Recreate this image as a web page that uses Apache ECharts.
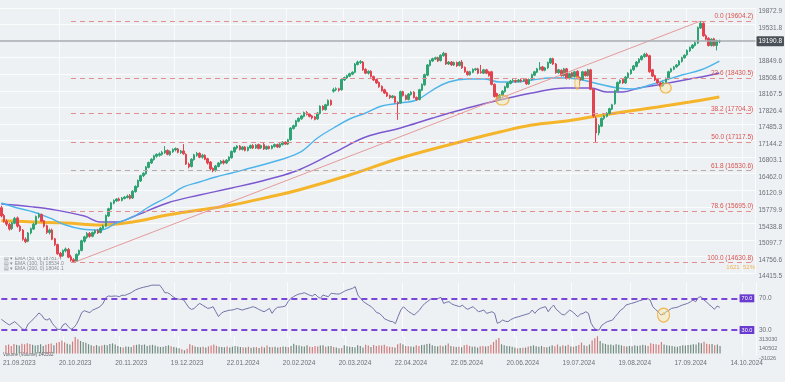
<!DOCTYPE html>
<html><head><meta charset="utf-8">
<script src="https://cdn.jsdelivr.net/npm/echarts@6/dist/echarts.min.js"></script>
<style>html,body{margin:0;padding:0;background:#eef1f4;}#c{width:785px;height:382px;}</style>
</head><body><div id="c"></div>
<script>
// ---------- DATA ----------
const tickDates = ['21.09.2023','20.10.2023','20.11.2023','19.12.2023','22.01.2024','20.02.2024','20.03.2024','22.04.2024','22.05.2024','20.06.2024','19.07.2024','19.08.2024','17.09.2024','14.10.2024'];
const firstTick = 5, tickStep = 21, barCount = 282;
const priceTicks = ['14415.5','14756.6','15097.7','15438.8','15779.9','16120.9','16462.0','16803.1','17144.2','17485.3','17826.4','18167.5','18508.6','18849.6','19190.8','19531.8','19872.9'];
const volTicks = ['-31026','140502','313030'];
const rsiLevels = [30, 70];
// [open, close, low, high]
const ohlc = [
[15760,15590,15560,15800],[15600,15480,15450,15630],[15480,15420,15380,15520],[15420,15320,15290,15450],[15330,15450,15300,15470],
[15440,15540,15420,15570],[15550,15380,15350,15580],[15380,15290,15260,15410],[15300,15110,15080,15320],[15110,15060,15030,15150],
[15070,15240,15050,15260],[15240,15330,15210,15350],[15320,15420,15300,15450],[15420,15580,15400,15600],[15570,15620,15540,15660],
[15620,15480,15460,15640],[15490,15380,15350,15510],[15390,15250,15220,15410],[15250,15300,15210,15330],[15300,15110,15090,15330],
[15120,15000,14970,15140],[15000,14810,14790,15020],[14820,14760,14730,14850],[14770,14880,14750,14900],[14870,14910,14840,14940],
[14900,14740,14720,14930],[14750,14680,14650,14790],[14690,14650,14631,14720],[14660,14800,14640,14820],[14800,14880,14770,14900],
[14880,15080,14860,15100],[15070,15160,15040,15180],[15150,15230,15120,15260],[15230,15170,15140,15260],[15170,15250,15150,15270],
[15240,15290,15210,15310],[15290,15240,15220,15320],[15250,15340,15230,15360],[15330,15380,15310,15410],[15380,15600,15360,15620],
[15590,15740,15570,15760],[15730,15860,15710,15880],[15850,15910,15830,15930],[15900,15940,15880,15960],[15940,15910,15890,15970],
[15910,15960,15890,15980],[15950,15980,15930,16000],[15970,16000,15950,16030],[16010,15950,15930,16040],[15960,16100,15940,16120],
[16090,16200,16070,16220],[16190,16320,16170,16340],[16310,16420,16290,16440],[16420,16470,16390,16490],[16460,16600,16440,16620],
[16590,16690,16570,16710],[16680,16760,16660,16780],[16750,16830,16730,16850],[16820,16860,16790,16880],[16840,16870,16810,16900],
[16860,16900,16830,16930],[16890,16940,16870,17030],[16940,16860,16840,16960],[16850,16920,16830,16940],[16910,16960,16890,16980],
[16950,16980,16920,17000],[16970,16900,16880,16990],[16890,16930,16870,16950],[16930,16870,16850,17070],[16860,16660,16640,16880],
[16660,16600,16570,16690],[16610,16760,16590,16780],[16750,16850,16730,16870],[16840,16880,16810,16910],[16880,16800,16780,16900],
[16800,16840,16770,16870],[16840,16760,16740,16860],[16770,16680,16650,16790],[16700,16560,16520,16720],[16570,16520,16490,16590],
[16530,16620,16500,16640],[16610,16680,16590,16700],[16670,16720,16650,16740],[16720,16680,16650,16750],[16680,16740,16660,16760],
[16730,16800,16710,16820],[16790,16920,16770,16940],[16910,17000,16890,17020],[16990,17030,16960,17050],[17030,16960,16940,17050],
[16960,17010,16940,17030],[17010,16940,16920,17030],[16940,17000,16920,17020],[16990,17040,16970,17060],[17040,16990,16970,17070],
[16990,17050,16970,17070],[17060,16980,16960,17080],[16990,17040,16970,17060],[17060,16970,16950,17100],[16970,17020,16950,17040],
[17020,16980,16960,17040],[16980,17030,16960,17050],[17020,17060,17000,17080],[17060,17010,16990,17080],[17010,17070,16990,17090],
[17060,17110,17040,17130],[17110,17070,17050,17130],[17070,17160,17050,17180],[17160,17400,17140,17420],[17390,17450,17370,17470],
[17440,17550,17420,17570],[17540,17600,17520,17620],[17590,17650,17570,17670],[17640,17720,17620,17740],[17720,17680,17660,17750],
[17690,17640,17620,17710],[17650,17610,17580,17670],[17630,17580,17560,17650],[17590,17710,17570,17730],[17700,17850,17680,17870],
[17850,17780,17760,17870],[17780,17880,17760,17900],[17870,17970,17850,17990],[17970,17880,17860,17990],[18160,18190,18130,18230],
[18190,18210,18160,18240],[18210,18180,18150,18230],[18190,18400,18170,18420],[18390,18440,18370,18460],[18430,18480,18410,18500],
[18470,18520,18450,18540],[18510,18550,18490,18570],[18550,18720,18530,18740],[18710,18760,18690,18790],[18750,18770,18720,18800],
[18760,18600,18580,18780],[18610,18530,18510,18630],[18530,18570,18500,18590],[18570,18460,18440,18590],[18460,18390,18370,18480],
[18400,18330,18310,18420],[18340,18250,18230,18360],[18260,18170,18150,18280],[18190,18120,18100,18210],[18130,18060,18040,18150],
[18070,18030,18000,18090],[18030,18060,18010,18080],[18050,17930,17910,18070],[17930,17900,17570,17950],[17920,18150,17900,18170],
[18150,18070,18050,18170],[18070,17990,17970,18090],[17990,18100,17970,18120],[18090,18140,18070,18160],[18140,18030,18010,18160],
[18030,17990,17960,18050],[17990,18190,17970,18210],[18180,18300,18160,18320],[18290,18500,18270,18520],[18490,18700,18470,18720],
[18690,18790,18670,18810],[18780,18830,18760,18850],[18820,18850,18800,18870],[18850,18780,18760,18870],[18790,18900,18770,18920],
[18890,18940,18870,18970],[18940,18720,18700,18950],[18720,18760,18700,18780],[18760,18700,18680,18780],[18700,18750,18680,18770],
[18750,18680,18660,18770],[18690,18760,18670,18780],[18760,18640,18620,18800],[18650,18560,18540,18670],[18560,18500,18480,18580],
[18500,18560,18480,18580],[18550,18610,18530,18630],[18600,18620,18580,18640],[18620,18530,18510,18640],[18560,18540,18520,18700],
[18530,18600,18510,18620],[18600,18530,18510,18620],[18560,18480,18460,18580],[18560,18300,18280,18580],[18300,18050,18030,18320],
[18110,17990,17950,18130],[17990,18080,17970,18100],[18070,18160,18050,18180],[18150,18250,18130,18270],[18240,18330,18220,18350],
[18320,18370,18300,18390],[18370,18380,18340,18410],[18380,18360,18330,18400],[18360,18390,18340,18410],[18390,18370,18340,18420],
[18370,18400,18350,18430],[18400,18310,18290,18420],[18310,18400,18290,18420],[18400,18500,18380,18520],[18490,18560,18470,18580],
[18550,18620,18530,18640],[18610,18660,18590,18760],[18660,18590,18570,18680],[18590,18640,18570,18660],[18640,18750,18620,18770],
[18740,18830,18720,18850],[18830,18720,18700,18850],[18720,18540,18520,18740],[18540,18600,18520,18620],[18590,18480,18460,18610],
[18480,18620,18460,18640],[18620,18420,18400,18640],[18420,18520,18400,18540],[18540,18460,18440,18560],[18460,18560,18440,18580],
[18570,18440,18420,18590],[18440,18380,18280,18460],[18400,18560,18380,18580],[18560,18480,18460,18580],[18480,18600,18460,18620],
[18600,18200,18180,18620],[18200,17650,17620,18220],[17600,17300,17100,17640],[17300,17450,17250,17480],[17440,17600,17420,17620],
[17600,17650,17570,17680],[17640,17700,17620,17730],[17700,17800,17680,17820],[17790,17880,17770,17900],[17900,18170,17880,18190],
[18170,18340,18150,18360],[18330,18380,18310,18400],[18400,18330,18310,18420],[18330,18450,18310,18470],[18440,18530,18420,18550],
[18520,18600,18500,18620],[18600,18680,18580,18700],[18670,18760,18650,18780],[18750,18820,18730,18840],[18810,18880,18790,18900],
[18870,18920,18850,18950],[18920,18880,18860,18950],[18890,18560,18540,18910],[18600,18470,18450,18620],[18480,18390,18370,18500],
[18400,18330,18310,18420],[18330,18260,18200,18350],[18270,18340,18250,18360],[18340,18420,18320,18440],[18420,18560,18400,18580],
[18560,18620,18540,18640],[18610,18660,18590,18680],[18660,18700,18640,18720],[18700,18780,18680,18800],[18770,18850,18750,18870],
[18850,18900,18830,18920],[18910,19000,18890,19020],[18990,19060,18970,19080],[19050,19110,19030,19130],[19100,19160,19080,19190],
[19150,19470,19130,19490],[19460,19560,19440,19604.2],[19560,19300,19280,19580],[19300,19230,19200,19330],[19250,19100,19080,19270],
[19100,19230,19080,19250],[19240,19100,19080,19260],[19100,19200,19000,19220],[19180,19190.8,19150,19220]
];
const volume = [
150000,165000,140000,172000,158000,145000,180000,168000,190000,175000,
160000,148000,155000,170000,138000,162000,175000,185000,150000,195000,
210000,240000,205000,180000,165000,220000,300000,260000,230000,210000,
195000,170000,150000,140000,155000,132000,145000,160000,150000,175000,
185000,165000,140000,120000,110000,130000,125000,118000,150000,160000,
170000,155000,165000,140000,150000,160000,145000,130000,120000,125000,
140000,150000,135000,120000,110000,95000,80000,60000,90000,170000,
150000,130000,120000,115000,125000,110000,130000,145000,165000,140000,
125000,120000,115000,130000,110000,125000,140000,130000,120000,115000,
110000,125000,105000,115000,120000,100000,130000,110000,145000,120000,
115000,125000,110000,120000,130000,125000,115000,140000,180000,150000,
145000,135000,130000,150000,125000,120000,140000,130000,145000,150000,
125000,135000,140000,120000,110000,95000,100000,150000,135000,125000,
120000,115000,150000,140000,110000,160000,145000,120000,155000,140000,
150000,145000,160000,135000,125000,120000,110000,170000,190000,165000,
140000,135000,130000,125000,150000,140000,155000,160000,175000,180000,
150000,140000,130000,145000,135000,150000,185000,140000,130000,120000,
125000,115000,150000,160000,140000,125000,130000,110000,135000,140000,
130000,140000,160000,210000,250000,285000,170000,150000,140000,135000,
125000,110000,95000,100000,105000,110000,130000,140000,150000,135000,
125000,140000,120000,115000,130000,150000,135000,165000,130000,150000,
140000,160000,130000,125000,140000,155000,200000,150000,140000,165000,
240000,280000,315000,230000,190000,175000,160000,165000,150000,170000,
160000,150000,140000,130000,140000,135000,150000,140000,145000,160000,
150000,140000,190000,175000,170000,160000,210000,165000,150000,145000,
140000,130000,125000,140000,150000,145000,155000,160000,170000,165000,
200000,190000,215000,180000,170000,175000,150000,165000,140000
];
const rsi = [
43.5,41,38.5,36.3,38.5,40.5,37.5,34.2,31,30.5,37.5,40.5,44,47.5,51.5,49,44,42.5,44.5,38.5,
34.2,31,30.5,36.3,38.4,34.2,30.8,33,37,44,52,54.4,53,52,55,56.5,58,60,64,71,
73,72.5,72.9,72.9,72,74,73.7,75,76.3,78.4,80.5,82,83,84,84.7,85.5,86.5,86.8,86.5,86.8,
82.6,77,77.1,75,72.1,70,69,68.7,68,63,58,56,57.3,61,63.6,61.5,59.4,57.3,58,59.4,
53.1,47,51,53.1,54,55,55.2,56,57.3,56,55.2,56.5,57.3,58.5,59.4,58,56.1,54.5,53.1,55,
57.3,51,56,58.6,59,59.4,60.3,66,70,72.1,74,75.4,76,77.1,75.5,74,72.9,75.4,72,70,
74.2,73,72.1,76.3,76,75.5,75.4,77,79,80.5,81.5,82.6,84.7,74.2,70,66,63.6,61.5,59.4,56,
52,51,48,44,42.5,41,40.5,38,47,55.2,59.4,56,53.1,51,48.9,52,55.2,60,63.6,66,
68.7,70,68.7,70,71.2,63.6,65,65.7,63,61.5,60.5,59.4,61.5,58,56.1,58,59.4,56,53.1,54,
55.2,51,52,53.1,51,38.4,40,42.6,41,40.5,43,44.7,46,46.8,48,48.9,50,51,55.2,51,
55,57.3,58.5,59.4,53.1,58,61.5,56,53.1,50,48.9,52,55.2,53.1,50,46.8,50,51,53.1,51,
38.4,33,30,30,36,38.4,40.5,41.5,42.6,47,51,55,57.3,61.5,62.5,63.6,64.5,65.7,67,67.9,
69,70,67.9,59.4,56,53.1,48.9,50,53.1,55,57.3,58,58.6,60,61.5,62.5,63.6,65.5,67.9,65.7,
71.2,72.1,68,65.7,62,59.4,56.1,60.3,58.6
];
const ema50 = [[0,15857],[6,15754],[12,15672],[18,15549],[24,15404],[30,15322],[37,15301],[43,15445],[49,15569],[55,15775],[62,15981],[68,16187],[74,16290],[80,16393],[86,16475],[93,16578],[100,16681],[111,16887],[118,17196],[124,17402],[130,17587],[136,17711],[142,17855],[149,17917],[155,17978],[161,18184],[167,18349],[174,18411],[180,18411],[186,18349],[192,18349],[198,18390],[205,18431],[211,18431],[217,18390],[223,18308],[230,18226],[236,18205],[242,18287],[248,18390],[254,18493],[261,18596],[268,18781]];
const ema100 = [[0,15837],[6,15811],[12,15775],[18,15733],[31,15589],[37,15466],[43,15466],[49,15569],[62,15857],[74,16022],[86,16166],[100,16352],[111,16537],[124,16887],[136,17217],[149,17402],[161,17608],[174,17814],[186,17978],[198,18123],[211,18226],[220,18226],[226,18143],[232,18143],[238,18226],[245,18287],[251,18349],[257,18411],[263,18473],[268,18534]];
const ema200 = [[0,15493],[12,15466],[24,15445],[37,15404],[49,15466],[62,15610],[74,15713],[86,15816],[100,15981],[111,16125],[130,16434],[149,16784],[174,17155],[186,17319],[198,17464],[211,17546],[220,17628],[232,17731],[245,17834],[257,17937],[268,18040]];
const fibLevels = [['0.0',19604.2],['23.6',18430.5],['38.2',17704.3],['50.0',17117.5],['61.8',16530.6],['78.6',15695.0],['100.0',14630.8]];
const fibStart = 26;
const trendStart = [27, 14630.8], trendEnd = [261, 19604.2];
const lastPrice = 19190.8;
const priceMarkers = [[187, 17979, 13, 10], [215, 18330, 5, 12], [248, 18226, 11, 10]];
const rsiMarkers = [[247, 48.9, 12, 14]];
const legendRows = ['EMA (50, 0) 18781.4', 'EMA (100, 0) 18534.0', 'EMA (200, 0) 18040.1'];
const fibNote = '1621  52%';
const volumeLabel = 'Volume (Volume) 140502';

// ---------- CHART ----------
const cats = Array.from({length: barCount}, (_, i) => String(i));
const vGridIdx = [22,43,65,86,107,128,150,171,192,213,235,256,277];
const splitX = {show:true, interval:(i)=>vGridIdx.indexOf(i) >= 0, lineStyle:{color:'rgba(255,255,255,0.7)', width:1}};
const baseX = (g) => ({type:'category', gridIndex:g, data:cats, boundaryGap:true,
  axisLine:{show:false}, axisTick:{show:false}, axisLabel:{show:false}, splitLine:splitX});
const FONT = 'Liberation Sans, Arial, sans-serif';
const UP = '#2fa373', DOWN = '#e2434f';

const fibData = fibLevels.map(([r, v]) => [
  {coord:[fibStart, v], lineStyle:{type:[5,4], color: r === '61.8' ? '#b9aaa8' : '#e38f8f', width:1},
   label:{show:true, position:'insideEndTop', distance:1, formatter: r + ' (' + v.toFixed(1) + ')', color:'#d9534f', fontSize:6.5, fontFamily:FONT}},
  {coord:[barCount - 1, v]}
]);
fibData.push([
  {coord:trendStart, lineStyle:{type:'solid', color:'#e59a9a', width:1}, label:{show:false}},
  {coord:trendEnd}
]);
fibData.push({yAxis:lastPrice, lineStyle:{type:'solid', color:'#a6abb2', width:1.5},
  label:{show:true, position:'end', distance:1, formatter:lastPrice.toFixed(1), backgroundColor:'#4b5159', color:'#fff',
  fontSize:6.5, fontFamily:FONT, padding:[2,2,1,2], borderRadius:1}});

const markerStyle = {color:'rgba(255,232,160,0.55)', borderColor:'#f0a92e', borderWidth:1.2};

const option = {
  animation:false,
  backgroundColor:'#eef1f4',
  textStyle:{fontFamily:FONT},
  grid:[
    {left:0, right:29, top:8, height:265},
    {left:0, right:29, top:282.5, height:55.4},
    {left:0, right:29, top:336.3, height:19}
  ],
  xAxis:[baseX(0), baseX(1), Object.assign(baseX(2), {
    axisLabel:{show:true, interval:(i)=> i >= firstTick && (i - firstTick) % tickStep === 0,
      formatter:(v, i)=> tickDates[Math.round((i - firstTick) / tickStep)] || '',
      fontSize:6.5, color:'#6b7078', margin:4, fontFamily:FONT}
  })],
  yAxis:[
    {type:'value', gridIndex:0, position:'right', min:14415.5, max:19873.1, interval:341.1,
     axisLine:{show:false}, axisTick:{show:false},
     splitLine:{show:true, lineStyle:{color:'rgba(255,255,255,0.75)', width:1}},
     axisLabel:{fontSize:6.5, color:'#6b7078', margin:3, fontFamily:FONT, verticalAlign:'top', lineHeight:7,
       formatter:(v)=>{const k = Math.round((v - 14415.5) / 341.1); return k === 14 ? '' : (priceTicks[k] || '');}}},
    {type:'value', gridIndex:1, position:'right', min:20, max:90, interval:10,
     axisLine:{show:false}, axisTick:{show:false}, splitLine:{show:false},
     axisLabel:{fontSize:6.5, color:'#6b7078', margin:3, fontFamily:FONT,
       formatter:(v)=> rsiLevels.indexOf(v) >= 0 ? v.toFixed(1) : ''}},
    {type:'value', gridIndex:2, position:'right', min:-31026, max:314030, interval:172528,
     axisLine:{show:false}, axisTick:{show:false}, splitLine:{show:false},
     axisLabel:{fontSize:5.5, color:'#6b7078', margin:3, fontFamily:FONT, verticalAlign:'top', lineHeight:6,
       formatter:(v)=>{const k = Math.round((v + 31026) / 172528); return volTicks[k] || '';}}}
  ],
  series:[
    {type:'line', xAxisIndex:0, yAxisIndex:0, data:ema200, showSymbol:false, smooth:0.4, z:2,
     lineStyle:{color:'#f5b52a', width:3}},
    {type:'line', xAxisIndex:0, yAxisIndex:0, data:ema100, showSymbol:false, smooth:0.4, z:2,
     lineStyle:{color:'#7b58cf', width:1.4}},
    {type:'line', xAxisIndex:0, yAxisIndex:0, data:ema50, showSymbol:false, smooth:0.4, z:2,
     lineStyle:{color:'#4db4ea', width:1.4}},
    {type:'candlestick', xAxisIndex:0, yAxisIndex:0, data:ohlc, barWidth:2, z:3,
     itemStyle:{color:UP, color0:DOWN, borderColor:UP, borderColor0:DOWN, borderWidth:1},
     markLine:{symbol:['none','none'], silent:true, animation:false, data:fibData}},
    {type:'scatter', xAxisIndex:0, yAxisIndex:0, z:4,
     data:priceMarkers.map(m => ({value:[m[0], m[1]], symbolSize:[m[2], m[3]]})),
     symbol:'circle', itemStyle:markerStyle},
    {type:'line', xAxisIndex:1, yAxisIndex:1, data:rsi, showSymbol:false, z:3,
     lineStyle:{color:'#6f74a8', width:1},
     markLine:{symbol:['none','none'], silent:true, animation:false,
       data: rsiLevels.map(l => [
         {coord:[0, l], lineStyle:{type:[6,4], color:'#7a46d8', width:2},
          label:{show:true, position:'end', distance:1, formatter:l.toFixed(1), backgroundColor:'#6a3bd0', color:'#fff',
                 fontSize:5.5, fontFamily:FONT, padding:[1,2,1,2]}},
         {coord:[barCount - 7, l]}
       ])}},
    {type:'scatter', xAxisIndex:1, yAxisIndex:1, z:4,
     data:rsiMarkers.map(m => ({value:[m[0], m[1]], symbolSize:[m[2], m[3]]})),
     symbol:'circle', itemStyle:markerStyle,
     label:{show:true, position:'inside', formatter:'^', color:'#e39a20', fontSize:8}},
    {type:'bar', xAxisIndex:2, yAxisIndex:2, barWidth:1.2,
     data: volume.map((v, i) => ({value:v, itemStyle:{color: ohlc[i][1] >= ohlc[i][0] ? '#738c80' : '#d27c7c'}}))}
  ],
  graphic: legendRows.map((t, k) => ({type:'text', left:4, top:256 + k * 5.2,
     style:{text:'\u25A4 \u25BE ' + t, fontSize:5, fill:'#878c93', fontFamily:FONT}}))
    .concat([
      {type:'text', right:30, top:264, style:{text:fibNote, fontSize:6, fill:'#f0b35a', fontFamily:FONT}},
      {type:'text', left:3, top:352, style:{text:volumeLabel, fontSize:4.5, fill:'#555a61', fontFamily:FONT}}
    ])
};
const chart = echarts.init(document.getElementById('c'));
chart.setOption(option);
</script></body></html>
